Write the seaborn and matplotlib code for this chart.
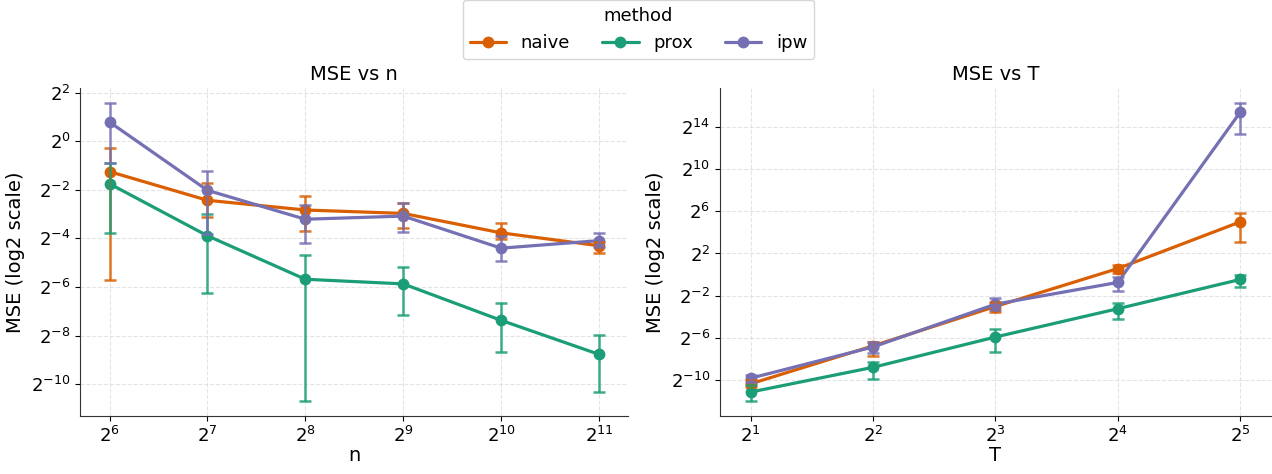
import matplotlib
matplotlib.use("Agg")
import matplotlib.pyplot as plt
import seaborn as sns
import pandas as pd
import numpy as np

# values, as log2(MSE)
methods = ["naive", "prox", "ipw"]
n_vals = [64, 128, 256, 512, 1024, 2048]
T_vals = [2, 4, 8, 16, 32]

n_mean = {
    "naive": [-1.25, -2.43, -2.83, -2.97, -3.77, -4.30],
    "prox":  [-1.75, -3.89, -5.68, -5.87, -7.37, -8.77],
    "ipw":   [0.79, -2.02, -3.21, -3.08, -4.40, -4.09],
}
n_lo = {
    "naive": [-5.69, -3.10, -3.70, -3.55, -4.02, -4.61],
    "prox":  [-3.78, -6.23, -10.70, -7.15, -8.67, -10.33],
    "ipw":   [-0.91, -3.82, -4.17, -3.75, -4.91, -4.36],
}
n_hi = {
    "naive": [-0.27, -1.72, -2.26, -2.53, -3.35, -4.13],
    "prox":  [-0.91, -3.01, -4.70, -5.19, -6.67, -7.99],
    "ipw":   [1.57, -1.21, -2.63, -2.56, -3.92, -3.79],
}

T_mean = {
    "naive": [-10.34, -6.75, -3.02, 0.57, 4.99],
    "prox":  [-11.12, -8.78, -5.91, -3.23, -0.46],
    "ipw":   [-9.81, -6.85, -2.80, -0.74, 15.36],
}
T_lo = {
    "naive": [-10.65, -7.75, -3.55, 0.19, 3.12],
    "prox":  [-11.99, -9.90, -7.31, -4.17, -1.15],
    "ipw":   [-10.18, -7.38, -3.33, -1.52, 13.28],
}
T_hi = {
    "naive": [-9.96, -6.35, -2.55, 0.88, 5.86],
    "prox":  [-10.49, -8.25, -5.13, -2.70, 0.01],
    "ipw":   [-9.46, -6.35, -2.24, -0.21, 16.24],
}

palette = {"naive": "#d95f02", "prox": "#1b9e77", "ipw": "#7570b3"}

sns.set_style("ticks")
plt.rcParams["font.family"] = ["DejaVu Sans"]
plt.rcParams["text.color"] = "black"
plt.rcParams["axes.labelcolor"] = "black"
plt.rcParams["xtick.color"] = "black"
plt.rcParams["ytick.color"] = "black"
plt.rcParams["axes.edgecolor"] = "#333333"


def to_df(xs, mean, lo, hi, xname):
    rows = []
    for m in methods:
        for i, x in enumerate(xs):
            rows.append({xname: x, "method": m, "mse": 2 ** mean[m][i],
                         "lo": 2 ** lo[m][i], "hi": 2 ** hi[m][i]})
    return pd.DataFrame(rows)


df_n = to_df(n_vals, n_mean, n_lo, n_hi, "n")
df_T = to_df(T_vals, T_mean, T_lo, T_hi, "T")

fig = plt.figure(figsize=(12.72, 4.74), dpi=100)
ax1 = fig.add_axes([0.063, 0.122, 0.431, 0.692])
ax2 = fig.add_axes([0.566, 0.122, 0.433, 0.692])


def panel(ax, df, xname, title, xlim):
    sns.lineplot(data=df, x=xname, y="mse", hue="method", hue_order=methods,
                 palette=palette, marker="o", markersize=8.5, markeredgewidth=0,
                 linewidth=2.3, ax=ax, legend=True)
    for m in methods:
        d = df[df["method"] == m]
        ax.errorbar(d[xname], d["mse"], yerr=[d["mse"] - d["lo"], d["hi"] - d["mse"]],
                    fmt="none", ecolor=palette[m], elinewidth=1.8, capsize=4,
                    capthick=1.8, alpha=0.85)
    ax.set_xscale("log", base=2)
    ax.set_yscale("log", base=2)
    ax.set_xticks(df[xname].unique())
    ax.minorticks_off()
    ax.set_xlim(*xlim)
    ax.grid(True, linestyle="--", color="#d9d9d9", linewidth=0.8, alpha=0.7)
    ax.set_title(title, fontsize=14)
    ax.set_xlabel(xname, fontsize=14, labelpad=0)
    ax.set_ylabel("MSE (log2 scale)", fontsize=14)
    ax.tick_params(labelsize=13)
    sns.despine(ax=ax)


panel(ax1, df_n, "n", "MSE vs n", (2 ** 5.7, 2 ** 11.3))
panel(ax2, df_T, "T", "MSE vs T", (2 ** 0.75, 2 ** 5.25))

handles, labels = ax1.get_legend_handles_labels()
ax1.get_legend().remove()
ax2.get_legend().remove()
fig.legend(handles, labels, title="method", loc="upper center", ncol=3,
           bbox_to_anchor=(0.502, 1.012), fontsize=13, title_fontsize=13,
           frameon=True, columnspacing=1.8, borderaxespad=0.3)

fig.savefig("out.png", dpi=100)
